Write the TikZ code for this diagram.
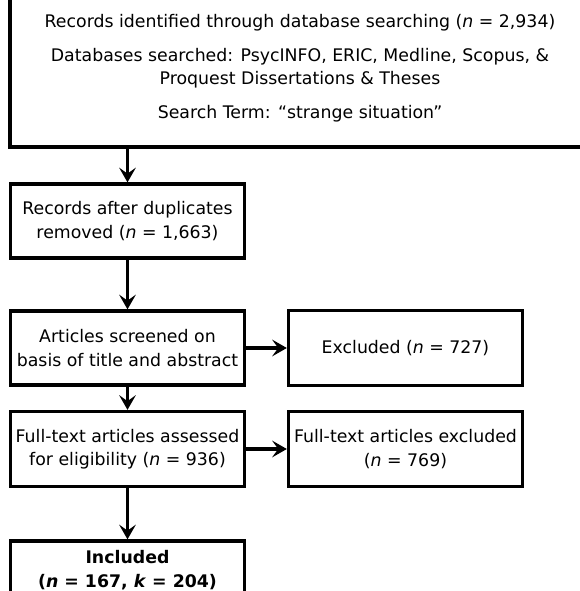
\documentclass[tikz,border=0pt]{standalone}
\usepackage{fontspec}
\setmainfont{DejaVu Sans}[
  ItalicFont={DejaVu Sans Oblique},
  BoldFont={DejaVu Sans Bold},
  BoldItalicFont={DejaVu Sans Bold Oblique}]
\usetikzlibrary{arrows.meta}

\begin{document}
\begin{tikzpicture}[x=0.75pt, y=-0.75pt,
    font=\fontsize{13}{17.5}\selectfont,
    box/.style={draw, line width=2.5pt, align=center, inner sep=0pt,
        minimum width=175.5pt, minimum height=55.5pt},
    arr/.style={line width=2.5pt, -{Stealth[length=11pt, width=12.5pt, inset=4.5pt]}}]
    \useasboundingbox (0,0) rectangle (580,591);
    \clip (0,0) rectangle (580,591);
    % identification
    \node[box, minimum width=435pt, minimum height=117.75pt] (search) at (300,68.5)
        {Records identified through database searching (\textit{n} = 2,934)\\[8pt]
         Databases searched: PsycINFO, ERIC, Medline, Scopus, \&\\
         Proquest Dissertations \& Theses\\[8pt]
         Search Term: “strange situation”};
    % left column
    \node[box] (dup) at (127.5,221)
        {Records after duplicates\\ removed (\textit{n} = 1,663)};
    \node[box] (screen) at (127.5,348)
        {Articles screened on\\ basis of title and abstract};
    \node[box, minimum height=56.25pt] (full) at (127.5,449)
        {Full-text articles assessed\\ for eligibility (\textit{n} = 936)};
    \node[box, minimum height=43.5pt] (incl) at (127.5,570)
        {\bfseries Included\\ \bfseries (\textit{n} = 167, \textit{k} = 204)};
    % right column
    \node[box, minimum height=56.25pt] (excl) at (405.5,348)
        {Excluded (\textit{n} = 727)};
    \node[box, minimum height=56.25pt] (fullexcl) at (405.5,449)
        {Full-text articles excluded\\ (\textit{n} = 769)};
    % arrows
    \draw[arr] (search.south -| dup.north) -- (dup.north);
    \draw[arr] (dup) -- (screen);
    \draw[arr] (screen) -- (full);
    \draw[arr] (full) -- (incl);
    \draw[arr] (screen) -- (excl);
    \draw[arr] (full) -- (fullexcl);
\end{tikzpicture}
\end{document}
